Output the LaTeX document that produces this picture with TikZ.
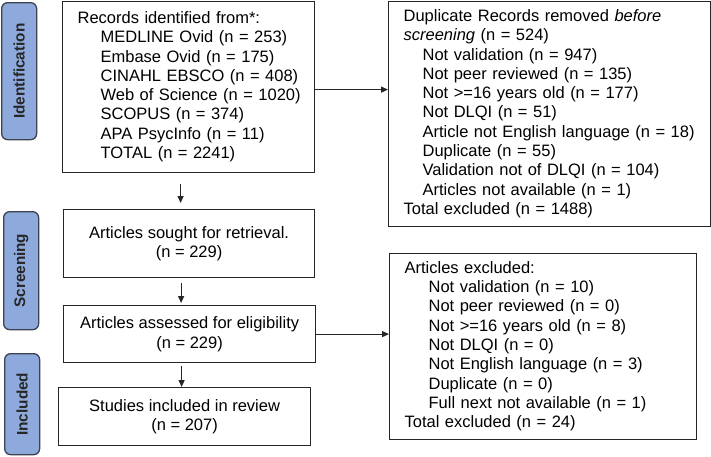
\documentclass[tikz,border=0pt]{standalone}
\usepackage{fontspec}
\setmainfont{Liberation Sans}
\usetikzlibrary{arrows.meta, positioning}
\definecolor{phaseblue}{RGB}{142,170,220}
\definecolor{phaseline}{RGB}{60,66,82}

\begin{document}
\begin{tikzpicture}[
    x=1pt, y=-1pt,
    every node/.style={font=\fontsize{16.5}{19.3}\selectfont},
    box/.style={draw=black!85, line width=1.2pt, inner sep=0pt, anchor=north west},
    listbox/.style={box, align=left, inner xsep=15pt},
    midbox/.style={box, align=center},
    phase/.style={draw=phaseline, fill=phaseblue, line width=1.3pt, rounded corners=6pt,
      anchor=north west, inner sep=0pt, minimum width=35pt},
    phasetext/.style={rotate=90, font=\fontsize{15.3}{17}\selectfont\bfseries, text=black!85},
    arr/.style={-{Triangle[length=7pt,width=6pt]}, line width=1.2pt, black!85}
  ]
  \useasboundingbox (0,0) rectangle (711,456);

  % phase tabs
  \node[phase, minimum height=137pt] (ident) at (1,2) {};
  \node[phasetext] at (ident.center) {Identification};
  \node[phase, minimum height=118pt] (screen) at (3,211) {};
  \node[phasetext] at (screen.center) {Screening};
  \node[phase, minimum height=101pt] (incl) at (4,353) {};
  \node[phasetext] at (incl.center) {Included};

  % left column
  \node[listbox, text width=222pt, minimum height=171pt] (recs) at (62,1) {\begin{tabular}{@{}l@{}}
    Records identified from*:\\
    \hspace*{23pt}MEDLINE Ovid (n = 253)\\
    \hspace*{23pt}Embase Ovid (n = 175)\\
    \hspace*{23pt}CINAHL EBSCO (n = 408)\\
    \hspace*{23pt}Web of Science (n = 1020)\\
    \hspace*{23pt}SCOPUS (n = 374)\\
    \hspace*{23pt}APA PsycInfo (n = 11)\\
    \hspace*{23pt}TOTAL (n = 2241)
  \end{tabular}};
  \node[midbox, minimum width=251pt, minimum height=68pt] (sought) at (63,209) {Articles sought for retrieval.\\(n = 229)};
  \node[midbox, minimum width=252pt, minimum height=57pt] (asse) at (63,305) {Articles assessed for eligibility\\(n = 229)};
  \node[midbox, minimum width=252pt, minimum height=58pt] (studies) at (58,387) {Studies included in review\\(n = 207)};

  % right column
  \node[listbox, text width=292pt, minimum height=225pt] (dup) at (388,1) {\begin{tabular}{@{}l@{}}
    Duplicate Records removed \textit{before}\\
    \textit{screening} (n = 524)\\
    \hspace*{19pt}Not validation (n = 947)\\
    \hspace*{19pt}Not peer reviewed (n = 135)\\
    \hspace*{19pt}Not >=16 years old (n = 177)\\
    \hspace*{19pt}Not DLQI (n = 51)\\
    \hspace*{19pt}Article not English language (n = 18)\\
    \hspace*{19pt}Duplicate (n = 55)\\
    \hspace*{19pt}Validation not of DLQI (n = 104)\\
    \hspace*{19pt}Articles not available (n = 1)\\
    Total excluded (n = 1488)
  \end{tabular}};
  \node[listbox, text width=277pt, minimum height=186pt] (excl) at (389,253) {\begin{tabular}{@{}l@{}}
    Articles excluded:\\
    \hspace*{24pt}Not validation (n = 10)\\
    \hspace*{24pt}Not peer reviewed (n = 0)\\
    \hspace*{24pt}Not >=16 years old (n = 8)\\
    \hspace*{24pt}Not DLQI (n = 0)\\
    \hspace*{24pt}Not English language (n = 3)\\
    \hspace*{24pt}Duplicate (n = 0)\\
    \hspace*{24pt}Full next not available (n = 1)\\
    Total excluded (n = 24)
  \end{tabular}};

  \draw[arr, shorten <=11pt, shorten >=6pt] ([xshift=-8pt]recs.south) -- ([xshift=-8pt]recs.south |- sought.north);
  \draw[arr, shorten <=5pt, shorten >=2pt] ([xshift=-8pt]sought.south) -- ([xshift=-8pt]sought.south |- asse.north);
  \draw[arr, shorten <=3pt] ([xshift=-8pt]asse.south) -- ([xshift=-8pt]asse.south |- studies.north);
  \draw[arr] ([yshift=-2.5pt]recs.east) -- ([yshift=-2.5pt]recs.east -| dup.west);
  \draw[arr] (asse.east) -- (asse.east -| excl.west);
\end{tikzpicture}
\end{document}
